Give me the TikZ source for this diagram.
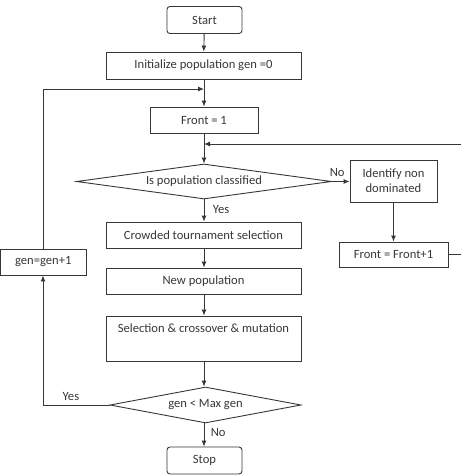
\documentclass[tikz,border=0pt]{standalone}
\usepackage{fontspec}
\setmainfont{Carlito}
\usetikzlibrary{shapes.geometric, arrows.meta, positioning}
\definecolor{flowgray}{RGB}{55, 55, 55}

\begin{document}
\begin{tikzpicture}[
  x=1pt, y=-1pt,
  every node/.style={font=\fontsize{12.6}{15}\selectfont, text=flowgray},
  fbox/.style={draw=flowgray, line width=0.9pt, inner sep=3pt, minimum height=26pt},
  termbox/.style={fbox, rounded corners=3pt, minimum width=75pt, minimum height=27pt},
  decide/.style={draw=flowgray, line width=0.9pt, diamond, inner sep=0pt},
  flow/.style={draw=flowgray, line width=0.9pt, -{Latex[length=6pt, width=5pt]}},
  plain/.style={draw=flowgray, line width=0.9pt}
]
  \useasboundingbox (0,0) rectangle (461,475);
  \node[termbox] (start) at (204.5, 20) {Start};
  \node[fbox, minimum width=195pt, minimum height=27pt] (init) at (203.5, 65.5) {Initialize population gen =0};
  \node[fbox, minimum width=108pt] (front) at (204, 120) {Front = 1};
  \node[decide, aspect=7.3, minimum width=255pt, minimum height=35pt] (classified) at (204, 181.5) {Is population classified};
  \node[fbox, minimum width=87pt, minimum height=42pt, align=center] (identify) at (393.5, 181) {Identify non\\dominated};
  \node[fbox, minimum width=109pt, minimum height=25pt] (frontinc) at (393.5, 254.5) {Front = Front+1};
  \node[fbox, minimum width=195pt] (crowded) at (203.5, 235) {Crowded tournament selection};
  \node[fbox, minimum width=195pt] (newpop) at (203.5, 281) {New population};
  \node[fbox, minimum width=195pt, minimum height=45pt, text depth=20pt] (variation) at (203.5, 338.5) {Selection \& crossover \& mutation};
  \node[decide, aspect=5.3, minimum width=191pt, minimum height=36pt] (maxgen) at (205.5, 405) {gen < Max gen};
  \node[fbox, minimum width=85.5pt] (genup) at (43.25, 262) {gen=gen+1};
  \node[termbox] (stop) at (204.5, 460.5) {Stop};

  % loop joins
  \coordinate (genjoin) at (204, 89);
  \coordinate (frontjoin) at (204, 144);
  \coordinate (gencorner) at (43, 89);
  \coordinate (frontcorner) at (465, 144);

  \draw[flow] (start) -- (init);
  \draw[plain] (init.south -| genjoin) -- (genjoin);
  \draw[flow] (genjoin) -- (front.north -| genjoin);
  \draw[plain] (front.south -| frontjoin) -- (frontjoin);
  \draw[flow] (frontjoin) -- (classified.north -| frontjoin);
  \draw[flow] (classified.east) -- node[above, pos=0.3, yshift=1pt] (nolabel) {No} (identify.west |- classified.east);
  \draw[flow] (identify) -- (frontinc);
  \draw[flow] (frontinc.east) -| (frontcorner) -- (frontjoin);
  \draw[flow] (classified.south -| frontjoin) -- node[right, xshift=5pt, pos=0.45] (yeslabel) {Yes} (crowded.north -| frontjoin);
  \draw[flow] (crowded.south -| frontjoin) -- (newpop.north -| frontjoin);
  \draw[flow] (newpop.south -| frontjoin) -- (variation.north -| frontjoin);
  \draw[flow] (variation.south -| frontjoin) -- (maxgen.north -| frontjoin);
  \draw[flow] (maxgen.south -| frontjoin) -- node[right, xshift=3pt, pos=0.4] (stoplabel) {No} (stop.north -| frontjoin);
  \draw[flow] (maxgen.west) -| node[above, pos=0.29, yshift=1pt] (againlabel) {Yes} (genup.south -| gencorner);
  \draw[plain] (genup.north -| gencorner) -- (gencorner);
  \draw[flow] (gencorner) -- (genjoin);
\end{tikzpicture}
\end{document}
